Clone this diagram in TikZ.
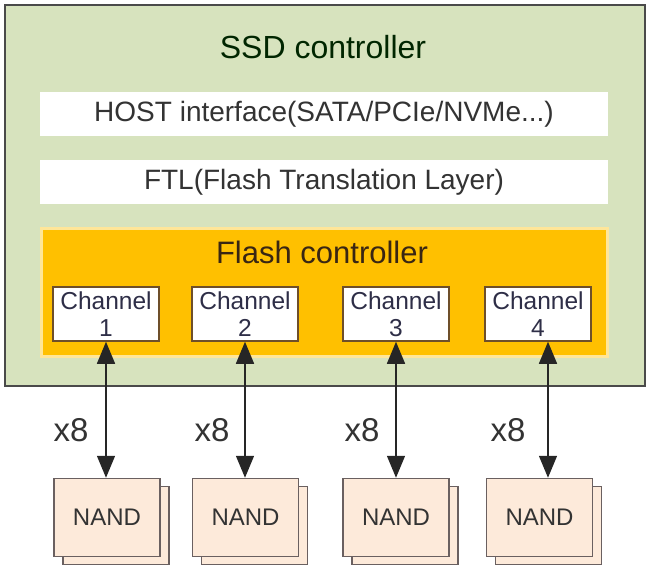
\documentclass[tikz,border=0pt]{standalone}
\usepackage{fontspec}
\setmainfont{Liberation Sans}
\usetikzlibrary{arrows.meta,shadows}

\definecolor{ssdgreen}{HTML}{D7E3BE}
\definecolor{ssdedge}{HTML}{4A4A4A}
\definecolor{flashorange}{HTML}{FFC000}
\definecolor{flashedge}{HTML}{FFE699}
\definecolor{chanedge}{HTML}{6E4F2A}
\definecolor{nandfill}{HTML}{FDEADA}
\definecolor{nandedge}{HTML}{6A6060}
\definecolor{textgray}{HTML}{333333}

\begin{document}
\begin{tikzpicture}[x=1pt,y=-1pt,
    bar/.style={fill=white,minimum width=568pt,minimum height=44pt,inner sep=0pt,
        font=\fontsize{28}{32}\selectfont,text=textgray},
    channel/.style={draw=chanedge,line width=1.5pt,fill=white,minimum width=106pt,
        minimum height=54pt,inner sep=0pt,align=center,
        font=\fontsize{24.5}{27}\selectfont,text=textgray!90!blue},
    nandbox/.style={draw=nandedge,line width=1.5pt,fill=nandfill,minimum width=106pt,
        minimum height=78pt,inner sep=0pt,font=\fontsize{24}{28}\selectfont,text=textgray,
        copy shadow={shadow xshift=9pt,shadow yshift=-8pt}},
    link/.style={{Triangle[width=18pt,length=22pt]}-{Triangle[width=18pt,length=22pt]},
        line width=1.5pt,draw=black!85},
    ways/.style={font=\fontsize{33}{36}\selectfont,text=textgray}]
    \useasboundingbox (0,0) rectangle (651,570);

    %controller
    \node[draw=ssdedge,fill=ssdgreen,line width=1.5pt,minimum width=640pt,
        minimum height=381pt,inner sep=0pt] (ssd) at (325,195.5) {};
    \node[font=\fontsize{32}{36}\selectfont,text=black!85!green] (ssdtitle) at (323,47) {SSD controller};
    \node[bar] (host) at (324,114) {HOST interface(SATA/PCIe/NVMe...)};
    \node[bar] (ftl) at (324,182) {FTL(Flash Translation Layer)};

    %flash controller
    \node[fill=flashorange,draw=flashedge,line width=3pt,minimum width=566pt,
        minimum height=128pt,inner sep=0pt] (flash) at (324,292) {};
    \node[font=\fontsize{31}{34}\selectfont,text=black!70!brown] (flashtitle) at (322,252) {Flash controller};
    \node[channel] (ch1) at (106,314) {Channel\\1};
    \node[channel] (ch2) at (245,314) {Channel\\2};
    \node[channel] (ch3) at (396,314) {Channel\\3};
    \node[channel] (ch4) at (538,314) {Channel\\4};

    %nand
    \node[nandbox] (nand1) at (107,517.5) {NAND};
    \node[nandbox] (nand2) at (245.5,517.5) {NAND};
    \node[nandbox] (nand3) at (396,517.5) {NAND};
    \node[nandbox] (nand4) at (539.5,517.5) {NAND};

    \draw[link] (ch1.south) -- (ch1.south |- nand1.north);
    \draw[link] (ch2.south) -- (ch2.south |- nand2.north);
    \draw[link] (ch3.south) -- (ch3.south |- nand3.north);
    \draw[link] ([xshift=10pt]ch4.south) -- ([xshift=10pt]ch4.south |- nand4.north);

    \node[ways] (x1) at (71,430) {x8};
    \node[ways] (x2) at (212,430) {x8};
    \node[ways] (x3) at (362,430) {x8};
    \node[ways] (x4) at (508,430) {x8};
\end{tikzpicture}
\end{document}
